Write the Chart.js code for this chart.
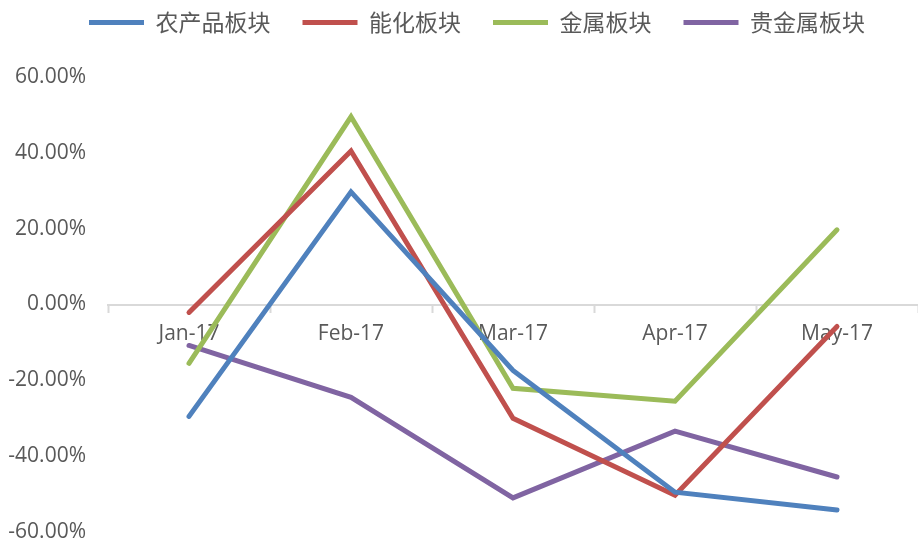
<!DOCTYPE html>
<html>
<head>
<meta charset="utf-8">
<script src="https://cdn.jsdelivr.net/npm/chart.js@4.4.0/dist/chart.umd.min.js"></script>
<style>
  html, body { margin: 0; padding: 0; background: #fff; }
  #wrap { width: 918px; height: 540px; }
</style>
</head>
<body>
<div id="wrap"><canvas id="chart"></canvas></div>
<script>
var months = ['Jan-17', 'Feb-17', 'Mar-17', 'Apr-17', 'May-17'];
var agri = [-29.5, 29.7, -17.4, -49.5, -54.2];      // 农产品板块
var energyChem = [-2.1, 40.5, -30.0, -50.3, -5.8];  // 能化板块
var metals = [-15.5, 49.5, -22.1, -25.5, 19.7];     // 金属板块
var precious = [-10.8, -24.5, -51.0, -33.4, -45.5]; // 贵金属板块
var yTicks = [-60, -40, -20, 0, 20, 40, 60];

var textColor = '#595959';
var axisFont = { family: 'Open Sans', size: 21 };

// extra room under the legend and nudge it right like the original
var legendTweak = {
  id: 'legendTweak',
  beforeInit: function (chart) {
    var fit = chart.legend.fit;
    chart.legend.fit = function () {
      fit.bind(chart.legend)();
      this.height += 33;
    };
  },
  afterLayout: function (chart) {
    chart.legend.left += 36;
  }
};

function series(label, data, color) {
  return {
    label: label,
    data: data,
    borderColor: color,
    backgroundColor: color,
    borderWidth: 5,
    borderCapStyle: 'round',
    borderJoinStyle: 'miter',
    pointRadius: 0,
    pointHoverRadius: 0,
    tension: 0,
    fill: false
  };
}

var ctx = document.getElementById('chart').getContext('2d');
var chart = new Chart(ctx, {
  type: 'line',
  data: {
    labels: months,
    datasets: [
      series('农产品板块', agri, '#4F81BD'),
      series('能化板块', energyChem, '#C0504D'),
      series('金属板块', metals, '#9BBB59'),
      series('贵金属板块', precious, '#8064A2')
    ]
  },
  options: {
    responsive: true,
    maintainAspectRatio: false,
    animation: false,
    layout: { padding: { top: -21, right: 0, bottom: 8, left: 0 } },
    plugins: {
      tooltip: { enabled: false },
      legend: {
        position: 'top',
        labels: {
          usePointStyle: true,
          pointStyle: 'line',
          pointStyleWidth: 55,
          boxHeight: 23,
          padding: 32,
          color: textColor,
          font: { family: 'Noto Sans CJK SC', size: 23 }
        }
      }
    },
    scales: {
      x: {
        position: { y: 0 },
        offset: true,
        grid: {
          offset: true,
          drawOnChartArea: false,
          drawTicks: true,
          tickLength: 7,
          tickColor: '#d9d9d9',
          tickWidth: 2
        },
        border: { display: true, color: '#d9d9d9', width: 2 },
        ticks: {
          color: textColor,
          font: axisFont,
          padding: 10,
          maxRotation: 0
        }
      },
      y: {
        min: -60,
        max: 60,
        afterBuildTicks: function (scale) {
          scale.ticks = yTicks.map(function (v) { return { value: v }; });
        },
        afterFit: function (scale) {
          scale.width = 108;
          scale.paddingTop = 0;
          scale.paddingBottom = 0;
        },
        grid: { display: false, drawTicks: false },
        border: { display: false },
        ticks: {
          color: textColor,
          font: axisFont,
          padding: 22,
          callback: function (v) { return v.toFixed(2) + '%'; }
        }
      }
    }
  },
  plugins: [legendTweak]
});
</script>
</body>
</html>
